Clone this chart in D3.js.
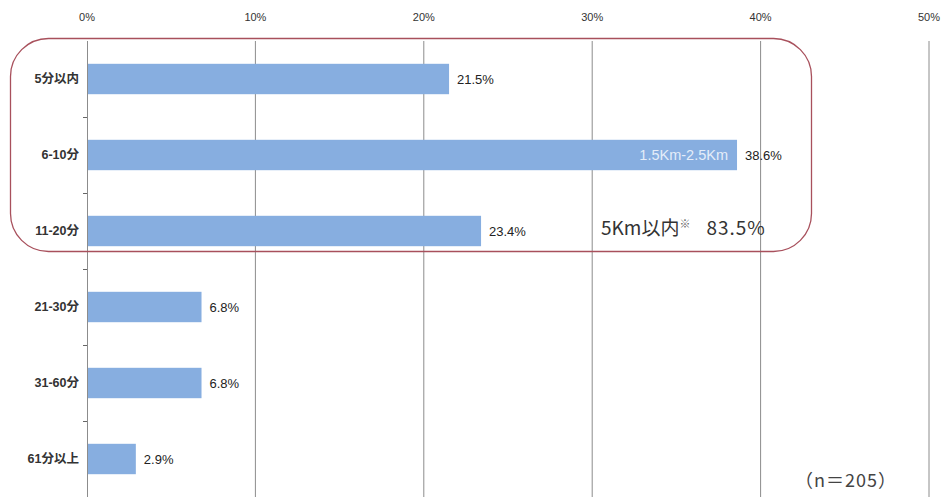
<!DOCTYPE html>
<html>
<head>
<meta charset="utf-8">
<script src="https://cdn.jsdelivr.net/npm/d3@7"></script>
<style>
  html, body { margin: 0; padding: 0; background: #fff; }
  svg { display: block; }
</style>
</head>
<body>
<svg id="chart" width="943" height="497"></svg>
<script>
// Travel time categories and share of respondents (%)
const categories = ["5分以内", "6-10分", "11-20分", "21-30分", "31-60分", "61分以上"];
const shares = [21.5, 38.6, 23.4, 6.8, 6.8, 2.9];
const tickValues = [0, 10, 20, 30, 40, 50];
const sampleNote = "（n＝205）";
const rangeNote = "1.5Km-2.5Km";
const groupNote = { label: "5Km以内", mark: "※", value: "83.5%" };

const svg = d3.select("#chart");
const W = 943, H = 497;
const plotLeft = 87, plotRight = 929, plotTop = 41, plotBottom = 497;

const latin = "'Liberation Sans Narrow', 'Liberation Sans', Arial, sans-serif";
const cjk = "'Liberation Sans Narrow', 'Liberation Sans', 'Noto Sans CJK JP', sans-serif";
const cjkWide = "'Noto Sans CJK JP', sans-serif";

const x = d3.scaleLinear().domain([0, 50]).range([plotLeft, plotRight]);
const y = d3.scaleBand().domain(categories).range([plotTop, plotBottom]).paddingInner(0.6).paddingOuter(0.3);

// vertical gridlines
svg.append("g")
  .selectAll("line")
  .data(tickValues.filter(d => d > 0))
  .join("line")
  .attr("x1", d => x(d)).attr("x2", d => x(d))
  .attr("y1", plotTop).attr("y2", H)
  .attr("stroke", "#8c8c8c").attr("stroke-width", 1);

// top axis labels
svg.append("g")
  .selectAll("text")
  .data(tickValues)
  .join("text")
  .attr("x", d => x(d))
  .attr("y", 21)
  .attr("text-anchor", "middle")
  .attr("font-family", latin)
  .attr("font-size", 11)
  .attr("fill", "#333")
  .text(d => d + "%");

// bars
svg.append("g")
  .selectAll("rect")
  .data(categories)
  .join("rect")
  .attr("x", x(0))
  .attr("y", d => y(d))
  .attr("width", (d, i) => x(shares[i]) - x(0))
  .attr("height", y.bandwidth())
  .attr("fill", "#87aee0");

// left axis line and category-boundary ticks
const step = y.step();
svg.append("line")
  .attr("x1", plotLeft + 0.5).attr("x2", plotLeft + 0.5)
  .attr("y1", plotTop).attr("y2", H)
  .attr("stroke", "#8c8c8c").attr("stroke-width", 1);
svg.append("g")
  .selectAll("line")
  .data(d3.range(1, categories.length))
  .join("line")
  .attr("x1", plotLeft - 4).attr("x2", plotLeft)
  .attr("y1", i => plotTop + i * step + 0.5).attr("y2", i => plotTop + i * step + 0.5)
  .attr("stroke", "#666");

// category labels
svg.append("g")
  .selectAll("text")
  .data(categories)
  .join("text")
  .attr("x", 79)
  .attr("y", d => y(d) + y.bandwidth() / 2)
  .attr("dy", "0.35em")
  .attr("text-anchor", "end")
  .attr("font-family", cjk)
  .attr("font-size", 12.5)
  .attr("font-weight", "bold")
  .attr("fill", "#333")
  .text(d => d);

// value labels
svg.append("g")
  .selectAll("text")
  .data(categories)
  .join("text")
  .attr("x", (d, i) => x(shares[i]) + 8)
  .attr("y", d => y(d) + y.bandwidth() / 2)
  .attr("dy", "0.35em")
  .attr("font-family", latin)
  .attr("font-size", 13)
  .attr("fill", "#222")
  .text((d, i) => shares[i].toFixed(1) + "%");

// distance note inside the longest bar
svg.append("text")
  .attr("x", x(shares[1]) - 9)
  .attr("y", y(categories[1]) + y.bandwidth() / 2)
  .attr("dy", "0.35em")
  .attr("text-anchor", "end")
  .attr("font-family", latin)
  .attr("font-size", 14.5)
  .attr("fill", "#e4edf9")
  .text(rangeNote);

// rounded frame grouping the first three categories
svg.append("rect")
  .attr("x", 10.5).attr("y", 38.5)
  .attr("width", 801).attr("height", 213)
  .attr("rx", 38).attr("ry", 38)
  .attr("fill", "none")
  .attr("stroke", "#a8505c")
  .attr("stroke-width", 1.3);

// combined share note
const note = svg.append("text")
  .attr("x", 601)
  .attr("y", 235)
  .attr("font-family", cjkWide)
  .attr("font-size", 19)
  .attr("fill", "#333");
note.append("tspan").text(groupNote.label);
note.append("tspan").attr("font-size", 11).attr("dy", -7).attr("fill", "#666").text(groupNote.mark);
note.append("tspan").attr("dy", 7).attr("dx", 16).attr("letter-spacing", 1).text(groupNote.value);

// sample size
svg.append("text")
  .attr("x", 897)
  .attr("y", 487)
  .attr("text-anchor", "end")
  .attr("font-family", cjkWide)
  .attr("font-size", 18)
  .attr("letter-spacing", 1)
  .attr("fill", "#444")
  .text(sampleNote);
</script>
</body>
</html>
